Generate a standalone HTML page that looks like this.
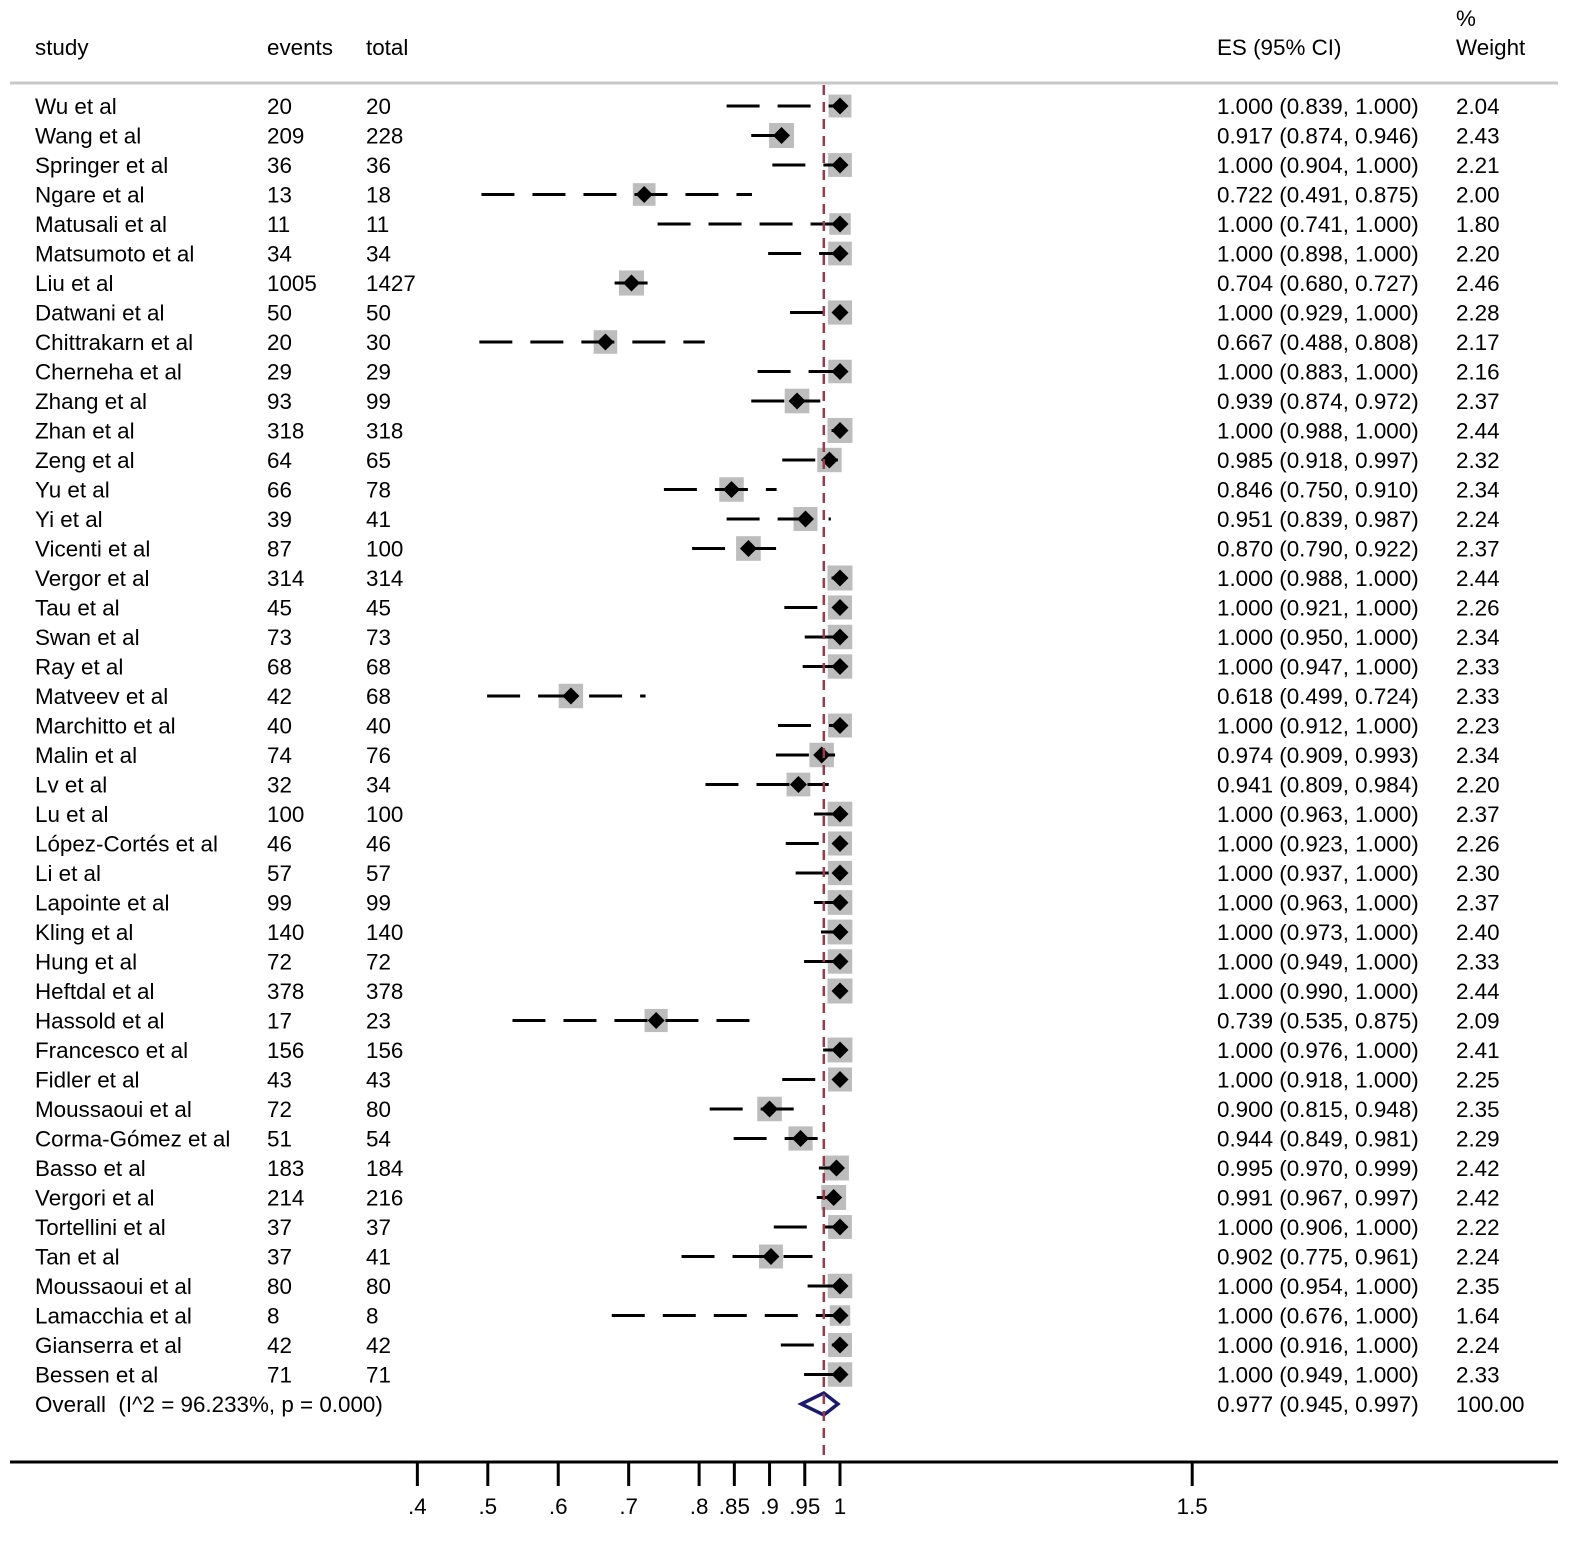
<!DOCTYPE html>
<html><head><meta charset="utf-8">
<style>
body{margin:0;background:#fff;}
svg{display:block;font-family:"Liberation Sans",Arial,sans-serif;}
text{font-size:22.4px;fill:#000;white-space:pre;}
</style></head>
<body>
<svg id="chart" width="1592" height="1546" viewBox="0 0 1592 1546" xmlns="http://www.w3.org/2000/svg">
<g>
<text x="35" y="55">study</text>
<text x="267" y="55">events</text>
<text x="366" y="55">total</text>
<text x="1217" y="55">ES (95% CI)</text>
<text x="1456" y="26">%</text>
<text x="1456" y="55">Weight</text>
</g>
<line x1="10" x2="1558" y1="83" y2="83" stroke="#c8c8c8" stroke-width="3"/>
<g id="rows"></g>
<g id="axis"></g>
</svg>
<script>
const studies=["Wu et al","Wang et al","Springer et al","Ngare et al","Matusali et al","Matsumoto et al","Liu et al","Datwani et al","Chittrakarn et al","Cherneha et al","Zhang et al","Zhan et al","Zeng et al","Yu et al","Yi et al","Vicenti et al","Vergor et al","Tau et al","Swan et al","Ray et al","Matveev et al","Marchitto et al","Malin et al","Lv et al","Lu et al","López-Cortés et al","Li et al","Lapointe et al","Kling et al","Hung et al","Heftdal et al","Hassold et al","Francesco et al","Fidler et al","Moussaoui et al","Corma-Gómez et al","Basso et al","Vergori et al","Tortellini et al","Tan et al","Moussaoui et al","Lamacchia et al","Gianserra et al","Bessen et al"];
const events=[20,209,36,13,11,34,1005,50,20,29,93,318,64,66,39,87,314,45,73,68,42,40,74,32,100,46,57,99,140,72,378,17,156,43,72,51,183,214,37,37,80,8,42,71];
const totals=[20,228,36,18,11,34,1427,50,30,29,99,318,65,78,41,100,314,45,73,68,68,40,76,34,100,46,57,99,140,72,378,23,156,43,80,54,184,216,37,41,80,8,42,71];
const es=[1,0.917,1,0.722,1,1,0.704,1,0.667,1,0.939,1,0.985,0.846,0.951,0.870,1,1,1,1,0.618,1,0.974,0.941,1,1,1,1,1,1,1,0.739,1,1,0.900,0.944,0.995,0.991,1,0.902,1,1,1,1];
const lo=[0.839,0.874,0.904,0.491,0.741,0.898,0.680,0.929,0.488,0.883,0.874,0.988,0.918,0.750,0.839,0.790,0.988,0.921,0.950,0.947,0.499,0.912,0.909,0.809,0.963,0.923,0.937,0.963,0.973,0.949,0.990,0.535,0.976,0.918,0.815,0.849,0.970,0.967,0.906,0.775,0.954,0.676,0.916,0.949];
const hi=[1,0.946,1,0.875,1,1,0.727,1,0.808,1,0.972,1,0.997,0.910,0.987,0.922,1,1,1,1,0.724,1,0.993,0.984,1,1,1,1,1,1,1,0.875,1,1,0.948,0.981,0.999,0.997,1,0.961,1,1,1,1];
const weights=[2.04,2.43,2.21,2.00,1.80,2.20,2.46,2.28,2.17,2.16,2.37,2.44,2.32,2.34,2.24,2.37,2.44,2.26,2.34,2.33,2.33,2.23,2.34,2.20,2.37,2.26,2.30,2.37,2.40,2.33,2.44,2.09,2.41,2.25,2.35,2.29,2.42,2.42,2.22,2.24,2.35,1.64,2.24,2.33];
const overall=[0.977,0.945,0.997];
const ticks=[0.4,0.5,0.6,0.7,0.8,0.85,0.9,0.95,1,1.5];
const tickLabels=[".4",".5",".6",".7",".8",".85",".9",".95","1","1.5"];

const NS="http://www.w3.org/2000/svg";
const xs=v=>840+(v-1)*704.4;
const ys=i=>106+i*29.5;
const f3=v=>v.toFixed(3);
function mk(tag,attrs,parent){const e=document.createElementNS(NS,tag);for(const k in attrs)e.setAttribute(k,attrs[k]);parent.appendChild(e);return e;}
const rows=document.getElementById('rows');
const axis=document.getElementById('axis');

studies.forEach((s,i)=>{
  const y=ys(i);
  const g=mk('g',{},rows);
  
  
  const t1=mk('text',{x:35,y:y+8},g);t1.textContent=s;
  
  
  const t2=mk('text',{x:267,y:y+8},g);t2.textContent=events[i];
  
  
  const t3=mk('text',{x:366,y:y+8},g);t3.textContent=totals[i];
  
  
  const t4=mk('text',{x:1217,y:y+8},g);t4.textContent=f3(es[i])+" ("+f3(lo[i])+", "+f3(hi[i])+")";
  
  
  const t5=mk('text',{x:1456,y:y+8},g);t5.textContent=weights[i].toFixed(2);
  
  
  const side=25*Math.sqrt(weights[i]/2.44);
  const b=mk('rect',{x:xs(es[i])-side/2,y:y-side/2,width:side,height:side,fill:'#bdbdbd'},g);
  
  
  const l=mk('line',{x1:xs(lo[i]),x2:xs(hi[i]),y1:y,y2:y,stroke:'#000','stroke-width':3,'stroke-dasharray':'33 18'},g);
  
  
  const cx=xs(es[i]),d=8.5;
  const p=mk('polygon',{points:`${cx-d},${y} ${cx},${y-d} ${cx+d},${y} ${cx},${y+d}`,fill:'#000'},g);
  
  
});

{
  const y=ys(studies.length);
  const g=mk('g',{},rows);
  
  
  const t=mk('text',{x:35,y:y+8},g);t.textContent="Overall  (I^2 = 96.233%, p = 0.000)";
  
  
  const t2=mk('text',{x:1217,y:y+8},g);t2.textContent=f3(overall[0])+" ("+f3(overall[1])+", "+f3(overall[2])+")";
  
  
  const t3=mk('text',{x:1456,y:y+8},g);t3.textContent="100.00";
  
  
  const dm=mk('polygon',{points:`${xs(overall[1])},${y} ${xs(overall[0])},${y-11} ${xs(overall[2])},${y} ${xs(overall[0])},${y+11}`,fill:'none',stroke:'#1a1a6e','stroke-width':3.5},g);
  
  
}

const ref=mk('line',{x1:xs(overall[0]),x2:xs(overall[0]),y1:85,y2:1461,stroke:'#9b3a4a','stroke-width':2.5,'stroke-dasharray':'10 7'},rows);



const al=mk('line',{x1:10,x2:1558,y1:1462,y2:1462,stroke:'#000','stroke-width':3},axis);


ticks.forEach((v,i)=>{
  const tk=mk('line',{x1:xs(v),x2:xs(v),y1:1462,y2:1486,stroke:'#000','stroke-width':3},axis);
  
  
  const tl=mk('text',{x:xs(v),y:1514,'text-anchor':'middle'},axis);
  tl.textContent=tickLabels[i];
  
  
});
</script>
</body></html>
